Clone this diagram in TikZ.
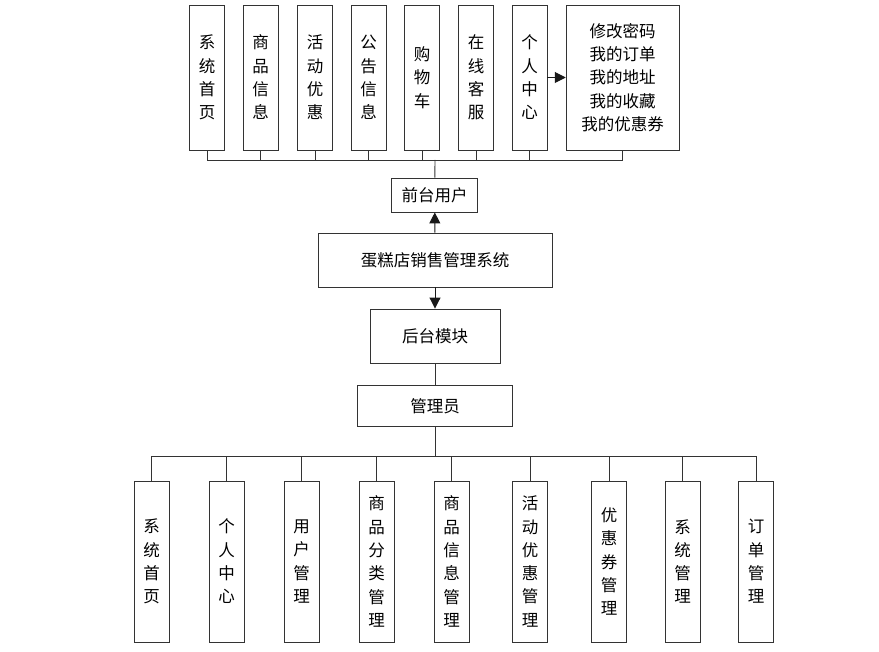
\documentclass[tikz,border=0pt]{standalone}
\usepackage{fontspec}
\newfontfamily\cjk{Noto Sans CJK SC}
\usepackage{tikz}
\usetikzlibrary{arrows.meta,positioning,calc}

\begin{document}
\begin{tikzpicture}[
  x=1pt, y=-1pt,
  box/.style={rectangle, draw=black!80, line width=0.9pt, inner sep=0pt, align=center, font=\cjk\fontsize{16.5}{23.3}\selectfont},
  col/.style={box, minimum width=35pt, minimum height=145pt},
  subcol/.style={box, minimum width=35pt, minimum height=161pt},
  edge/.style={-{Triangle[length=11pt,width=11pt]}, draw=black!90, line width=1pt},
  link/.style={draw=black!80, line width=0.9pt}
]
\useasboundingbox (0,0) rectangle (879,652);

% front end modules
\node[col] (home) at (207,77.5) {系\\统\\首\\页};
\node[col] (goods) at (260.5,77.5) {商\\品\\信\\息};
\node[col] (promo) at (315,77.5) {活\\动\\优\\惠};
\node[col] (notice) at (368.5,77.5) {公\\告\\信\\息};
\node[col] (cart) at (422,77.5) {购\\物\\车};
\node[col] (service) at (476,77.5) {在\\线\\客\\服};
\node[col] (center) at (529.5,77.5) {个\\人\\中\\心};
\node[box, minimum width=113pt, minimum height=145pt] (mine) at (622.7,77.5) {修改密码\\我的订单\\我的地址\\我的收藏\\我的优惠券};

\node[box, minimum width=86pt, minimum height=34pt] (front) at (434.7,195) {前台用户};
\node[box, minimum width=234pt, minimum height=54pt] (sys) at (435,260) {蛋糕店销售管理系统};
\node[box, minimum width=130pt, minimum height=54pt] (back) at (435,336) {后台模块};
\node[box, minimum width=155pt, minimum height=41pt] (admin) at (435,406) {管理员};

% back end modules
\node[subcol] (ahome) at (151.5,561.5) {系\\统\\首\\页};
\node[subcol] (acenter) at (226.5,561.5) {个\\人\\中\\心};
\node[subcol] (auser) at (301.5,561.5) {用\\户\\管\\理};
\node[subcol] (acat) at (376.5,561.5) {商\\品\\分\\类\\管\\理};
\node[subcol] (agoods) at (451.5,561.5) {商\\品\\信\\息\\管\\理};
\node[subcol] (apromo) at (530,561.5) {活\\动\\优\\惠\\管\\理};
\node[subcol] (acoupon) at (609,561.5) {优\\惠\\券\\管\\理};
\node[subcol] (asys) at (682.5,561.5) {系\\统\\管\\理};
\node[subcol] (aorder) at (756,561.5) {订\\单\\管\\理};

\coordinate (topbus) at (435,160);
\coordinate (botbus) at (435,456);

\draw[link] (home) |- (topbus);
\draw[link] (goods) |- (topbus);
\draw[link] (promo) |- (topbus);
\draw[link] (notice) |- (topbus);
\draw[link] (cart) |- (topbus);
\draw[link] (service) |- (topbus);
\draw[link] (center) |- (topbus);
\draw[link] (mine) |- (topbus);
\draw[link] (topbus) -- (front);
\draw[edge] (center) -- (mine);

\draw[edge] (sys) -- (front);
\draw[edge] (sys) -- (back);
\draw[link] (back) -- (admin);

\draw[link] (admin) -- (botbus);
\draw[link] (botbus) -| (ahome);
\draw[link] (botbus) -| (acenter);
\draw[link] (botbus) -| (auser);
\draw[link] (botbus) -| (acat);
\draw[link] (botbus) -| (agoods);
\draw[link] (botbus) -| (apromo);
\draw[link] (botbus) -| (acoupon);
\draw[link] (botbus) -| (asys);
\draw[link] (botbus) -| (aorder);
\end{tikzpicture}
\end{document}
